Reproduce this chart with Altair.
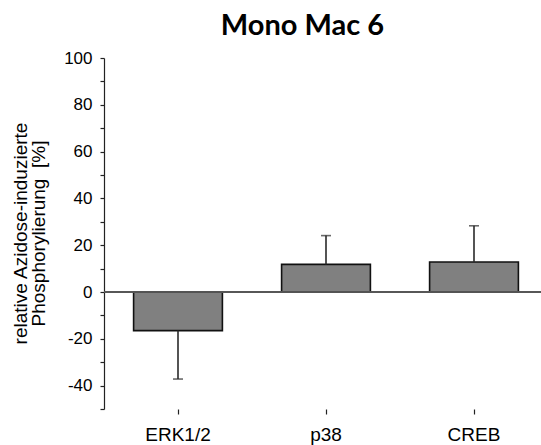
import altair as alt
import pandas as pd

categories = ["ERK1/2", "p38", "CREB"]
values = [-16.5, 11.8, 12.8]
errors = [20.7, 12.3, 15.5]

df = pd.DataFrame({"cat": categories, "val": values, "err": errors})
df["end"] = [v + (e if v >= 0 else -e) for v, e in zip(values, errors)]

xaxis = alt.Axis(title=None, domain=False, tickSize=5, tickColor="#222", tickWidth=1.2,
                 labelFontSize=19, labelFont="Liberation Sans", labelColor="#000",
                 labelPadding=11, labelAngle=0)
xscale = alt.Scale(domain=categories, range=[0, 444], paddingInner=0.4, paddingOuter=0.2)
yscale = alt.Scale(domain=[-50, 100], nice=False, zero=False)
yaxis = alt.Axis(values=list(range(-50, 101, 10)),
                 labelExpr="datum.value % 20 == 0 ? '' + datum.value : ''",
                 grid=False, tickSize=4, tickColor="#222", tickWidth=1.2,
                 domainColor="#222", domainWidth=1.2,
                 labelFontSize=17, labelFont="Liberation Sans", labelColor="#000",
                 labelPadding=8,
                 titleFont="Liberation Sans", titleFontSize=19, titleFontWeight="normal",
                 titleColor="#000", titleAngle=-90, titleX=-78, titleY=175,
                 titleAlign="center", titleBaseline="alphabetic", titleLineHeight=18)
ytitle = ["relative Azidose-induzierte", "Phosphorylierung\u00a0 [%]"]


def X():
    return alt.X("cat:N", sort=categories, scale=xscale, axis=xaxis)


def Y(field):
    return alt.Y(field, type="quantitative", scale=yscale, axis=yaxis, title=ytitle)


base = alt.Chart(df)

zero = base.mark_rule(color="#555", strokeWidth=1.5).encode(
    y=alt.datum(0, scale=yscale, axis=yaxis, title=ytitle), x=alt.value(0), x2=alt.value(437))

bars = base.mark_bar(color="#808080", stroke="#111", strokeWidth=1.6).encode(
    x=X(), y=Y("val"), y2=alt.datum(0))

err = base.mark_rule(color="#2a2a2a", strokeWidth=1.6).encode(
    x=X(), y=Y("val"), y2="end:Q")

caps = base.mark_tick(color="#2a2a2a", thickness=1.6, size=10, orient="horizontal").encode(
    x=X(), y=Y("end"))

chart = alt.layer(bars, zero, err, caps).properties(
    width=437, height=351,
    autosize=alt.AutoSizeParams(type="none"),
    padding={"left": 104, "top": 58, "right": 0, "bottom": 36},
    background="white",
    title=alt.TitleParams("Mono Mac 6", font="Lato", fontSize=29, fontWeight="bold",
                          color="#000", anchor="middle", dx=-20, dy=-4),
).configure_view(stroke=None)

chart.save("out.html", embed_options={"renderer": "svg", "actions": False})
